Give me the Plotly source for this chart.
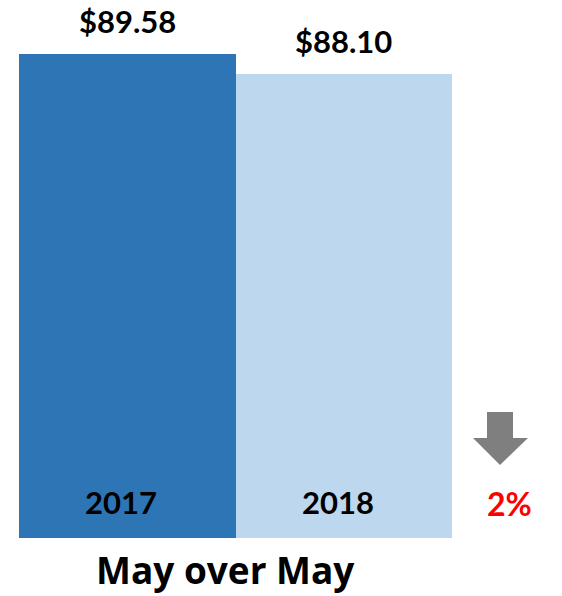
import plotly.graph_objects as go

# Average values for the two years
years = ["2017", "2018"]
values = [89.58, 88.10]
value_labels = ["$89.58", "$88.10"]
bar_colors = ["#2E75B6", "#BDD7EE"]
change_label = "2%"
caption = "May over May"

W, H = 562, 596
FONT = "Lato, 'Open Sans', sans-serif"
CAPTION_FONT = "'Open Sans', Lato, sans-serif"


def px(x):
    return x / W


def py(y):
    return 1 - y / H


fig = go.Figure(
    go.Bar(
        x=years,
        y=values,
        marker=dict(color=bar_colors, line=dict(width=0)),
        hoverinfo="skip",
    )
)

annotations = []
# value labels above each bar (x given as category index)
for i, (v, lab) in enumerate(zip(values, value_labels)):
    annotations.append(dict(
        x=i, y=v, xref="x", yref="y", text=f"<b>{lab}</b>",
        showarrow=False, yanchor="bottom", yshift=12,
        font=dict(family=FONT, size=31, color="#000000"),
    ))
# year labels inside the bars near the base
for i, yr in enumerate(years):
    annotations.append(dict(
        x=i, y=py(502), xref="x", yref="paper", text=f"<b>{yr}</b>",
        showarrow=False, yanchor="middle", xshift=-6,
        font=dict(family=FONT, size=31, color="#000000"),
    ))
# percent change
annotations.append(dict(
    x=px(509), y=py(503), xref="paper", yref="paper",
    text=f"<b>{change_label}</b>", showarrow=False,
    xanchor="center", yanchor="middle",
    font=dict(family=FONT, size=32, color="#FF0000"),
))
# caption
annotations.append(dict(
    x=px(225), y=py(569), xref="paper", yref="paper",
    text=f"<b>{caption}</b>", showarrow=False,
    xanchor="center", yanchor="middle",
    font=dict(family=CAPTION_FONT, size=37, color="#000000"),
))

# down arrow
pts = [(487, 412), (513, 412), (513, 438), (528, 438), (500, 465), (473, 438), (487, 438)]
path = "M " + " L ".join(f"{px(a):.5f},{py(b):.5f}" for a, b in pts) + " Z"

fig.update_layout(
    width=W, height=H,
    margin=dict(l=0, r=0, t=0, b=0),
    paper_bgcolor="white", plot_bgcolor="white",
    bargap=0, showlegend=False,
    xaxis=dict(type="category", range=[-0.5, len(years) - 0.5],
               domain=[px(19), px(452)], showticklabels=False,
               showgrid=False, zeroline=False, showline=False, ticks=""),
    yaxis=dict(domain=[py(538), 1], range=[53.76, 93.58], showticklabels=False,
               showgrid=False, zeroline=False, showline=False, ticks=""),
    annotations=annotations,
    shapes=[dict(type="path", path=path, xref="paper", yref="paper",
                 fillcolor="#7F7F7F", line=dict(width=0))],
)

fig.write_html("out.html", config={"displayModeBar": False})
